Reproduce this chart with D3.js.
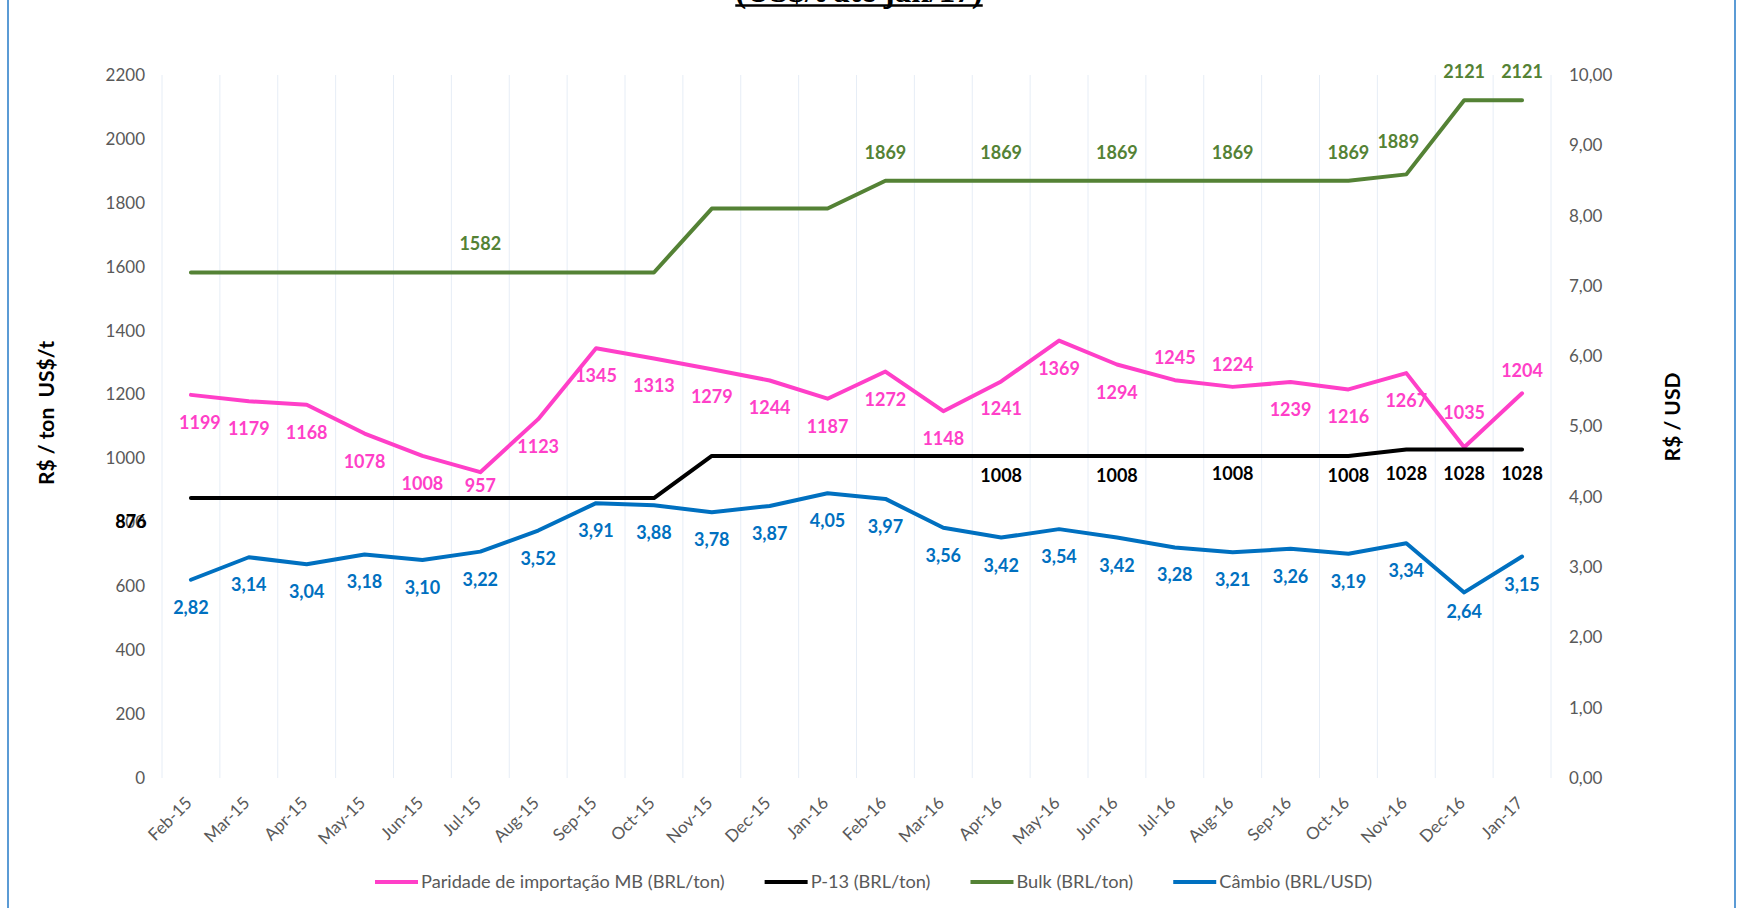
<!DOCTYPE html>
<html>
<head>
<meta charset="utf-8">
<script src="https://cdn.jsdelivr.net/npm/d3@7"></script>
<style>
  body { margin: 0; background: #fff; }
  svg { display: block; font-family: Lato, "Open Sans", sans-serif; }
</style>
</head>
<body>
<div id="chart"></div>
<script>
// months on the category axis
var months = ["Feb-15","Mar-15","Apr-15","May-15","Jun-15","Jul-15","Aug-15","Sep-15","Oct-15","Nov-15","Dec-15","Jan-16",
              "Feb-16","Mar-16","Apr-16","May-16","Jun-16","Jul-16","Aug-16","Sep-16","Oct-16","Nov-16","Dec-16","Jan-17"]

// Paridade de importação MB (BRL/ton)
var paridade = [1199,1179,1168,1078,1008,957,1123,1345,1313,1279,1244,1187,
                1272,1148,1241,1369,1294,1245,1224,1239,1216,1267,1035,1204]
// P-13 (BRL/ton)
var p13 = [876,876,876,876,876,876,876,876,876,1008,1008,1008,
           1008,1008,1008,1008,1008,1008,1008,1008,1008,1028,1028,1028]
// Bulk (BRL/ton)
var bulk = [1582,1582,1582,1582,1582,1582,1582,1582,1582,1782,1782,1782,
            1869,1869,1869,1869,1869,1869,1869,1869,1869,1889,2121,2121]
// Câmbio (BRL/USD)
var cambio = [2.82,3.14,3.04,3.18,3.10,3.22,3.52,3.91,3.88,3.78,3.87,4.05,
              3.97,3.56,3.42,3.54,3.42,3.28,3.21,3.26,3.19,3.34,2.64,3.15]

// which points carry a data label
var bulkLabelled = ["Jul-15","Feb-16","Apr-16","Jun-16","Aug-16","Oct-16","Nov-16","Dec-16","Jan-17"]
var p13Labelled = ["Feb-15","Apr-16","Jun-16","Aug-16","Oct-16","Nov-16","Dec-16","Jan-17"]
var paridadeAbove = ["Jul-16","Aug-16","Dec-16","Jan-17"]

var leftTicks = d3.range(0, 2201, 200)
var rightTicks = d3.range(0, 10.01, 1)

var legendNames = ["Paridade de importação MB (BRL/ton)","P-13 (BRL/ton)","Bulk (BRL/ton)","Câmbio (BRL/USD)"]

var width = 1737, height = 908
var plot = {left: 162, right: 1551, top: 75, bottom: 778}

var pink = "#ff3fc8", black = "#000000", green = "#548235", blue = "#0070c0"
var grey = "#595959"

var br = d3.formatLocale({decimal: ",", thousands: ".", grouping: [3], currency: ["R$", ""]})
var fmt2 = br.format(".2f")

var svg = d3.select("#chart").append("svg")
    .attr("width", width)
    .attr("height", height)

var x = d3.scaleBand().domain(months).range([plot.left, plot.right])
var yL = d3.scaleLinear().domain([0, 2200]).range([plot.bottom, plot.top])
var yR = d3.scaleLinear().domain([0, 10]).range([plot.bottom, plot.top])
var cx = function(m) { return x(m) + x.bandwidth() / 2 }

// outer frame (left / right edges visible)
svg.append("line").attr("x1", 8).attr("x2", 8).attr("y1", 0).attr("y2", height)
    .attr("stroke", "#5b9bd5").attr("stroke-width", 2)
svg.append("line").attr("x1", 1735).attr("x2", 1735).attr("y1", 0).attr("y2", height)
    .attr("stroke", "#5b9bd5").attr("stroke-width", 2)

// title, mostly cut off at the top
var title = svg.append("text")
    .attr("x", 859).attr("y", 2)
    .attr("text-anchor", "middle")
    .style("font-family", "'Liberation Serif', serif")
    .style("font-weight", "bold")
    .style("font-size", "33px")
    .text("(US$/t até jan/17)")
var tw = title.node().getComputedTextLength()
svg.append("line").attr("x1", 859 - tw / 2).attr("x2", 859 + tw / 2).attr("y1", 5.5).attr("y2", 5.5)
    .attr("stroke", "#000").attr("stroke-width", 2.5)

// vertical gridlines at category boundaries
var bounds = months.map(function(m) { return x(m) }).concat([plot.right])
svg.append("g").selectAll("line").data(bounds).enter().append("line")
    .attr("x1", d => d).attr("x2", d => d)
    .attr("y1", plot.top).attr("y2", plot.bottom)
    .attr("stroke", "#e6edf6").attr("stroke-width", 1)

// axes
var axL = svg.append("g").attr("transform", "translate(" + plot.left + ",0)")
    .call(d3.axisLeft(yL).tickValues(leftTicks).tickSize(0).tickPadding(17).tickFormat(d3.format("d")))
var axR = svg.append("g").attr("transform", "translate(" + plot.right + ",0)")
    .call(d3.axisRight(yR).tickValues(rightTicks).tickSize(0).tickPadding(18).tickFormat(fmt2))
var axB = svg.append("g").attr("transform", "translate(0," + plot.bottom + ")")
    .call(d3.axisBottom(x).tickSize(0))

;[axL, axR, axB].forEach(function(a) {
    a.select(".domain").remove()
    a.selectAll("text").style("font-size", "17px").style("fill", grey).style("font-family", "Lato, sans-serif")
})
axB.selectAll("text")
    .attr("y", 0).attr("dy", null)
    .attr("transform", "translate(2,26) rotate(-45)")
    .style("text-anchor", "end")
    .style("font-size", "17px")

// axis titles
svg.append("text")
    .attr("transform", "translate(54,413) rotate(-90)")
    .attr("text-anchor", "middle")
    .style("font-weight", "bold").style("font-size", "21px")
    .attr("xml:space", "preserve")
    .text("R$ / ton  US$/t")
svg.append("text")
    .attr("transform", "translate(1680,417) rotate(-90)")
    .attr("text-anchor", "middle")
    .style("font-weight", "bold").style("font-size", "21px")
    .text("R$ / USD")

// lines
var series = [
    {name: "paridade", values: paridade, y: yL, color: pink},
    {name: "p13", values: p13, y: yL, color: black},
    {name: "bulk", values: bulk, y: yL, color: green},
    {name: "cambio", values: cambio, y: yR, color: blue}
]

series.forEach(function(s) {
    var line = d3.line()
        .x(function(d, i) { return cx(months[i]) })
        .y(function(d) { return s.y(d) })
    svg.append("path")
        .datum(s.values)
        .attr("fill", "none")
        .attr("stroke", s.color)
        .attr("stroke-width", 4)
        .attr("stroke-linejoin", "round")
        .attr("stroke-linecap", "round")
        .attr("d", line)
})

// a few labels were moved by hand in the original
var nudge = {
    "paridade-Feb-15": [9, 0], "paridade-Jul-15": [0, -14], "paridade-Dec-16": [0, -12],
    "cambio-Dec-16": [0, -8], "bulk-Nov-16": [-8, -4], "p13-Feb-15": [-60, 0],
    "p13-Apr-16": [0, -4], "p13-Jun-16": [0, -4], "p13-Aug-16": [0, -6], "p13-Oct-16": [0, -4]
}

function addLabels(key, values, yScale, color, offsetFn, filterFn, format) {
    var data = values.map(function(v, i) { return {m: months[i], v: v} }).filter(filterFn)
    svg.append("g").selectAll("text").data(data).enter().append("text")
        .attr("x", function(d) { return cx(d.m) + (nudge[key + "-" + d.m] || [0, 0])[0] })
        .attr("y", function(d) { return yScale(d.v) + offsetFn(d) + (nudge[key + "-" + d.m] || [0, 0])[1] })
        .attr("text-anchor", "middle")
        .style("font-weight", "bold")
        .style("font-size", "18px")
        .style("fill", color)
        .text(function(d) { return format(d.v) })
}

addLabels("paridade", paridade, yL, pink,
    function(d) { return paridadeAbove.indexOf(d.m) >= 0 ? -16 : 34 },
    function() { return true }, d3.format("d"))
addLabels("p13", p13, yL, black,
    function() { return 30 },
    function(d) { return p13Labelled.indexOf(d.m) >= 0 }, d3.format("d"))
addLabels("bulk", bulk, yL, green,
    function() { return -22 },
    function(d) { return bulkLabelled.indexOf(d.m) >= 0 }, d3.format("d"))
addLabels("cambio", cambio, yR, blue,
    function() { return 34 },
    function() { return true }, fmt2)

// legend
var colors = [pink, black, green, blue]
var legend = svg.append("g").attr("transform", "translate(0,882)")
var lx = 375
legendNames.forEach(function(name, i) {
    legend.append("line").attr("x1", lx).attr("x2", lx + 43).attr("y1", 0).attr("y2", 0)
        .attr("stroke", colors[i]).attr("stroke-width", 4)
    var t = legend.append("text").attr("x", lx + 46).attr("y", 6)
        .style("font-size", "18.2px").style("fill", grey)
        .text(name)
    lx = lx + 46 + t.node().getComputedTextLength() + 40
})
</script>
</body>
</html>
